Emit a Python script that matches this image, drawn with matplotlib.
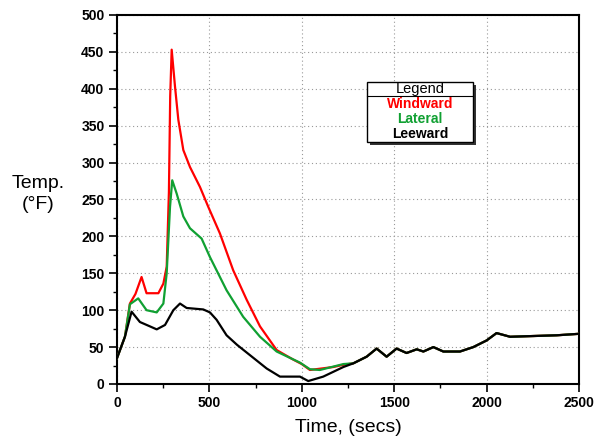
import matplotlib

matplotlib.use("Agg")
import matplotlib.pyplot as plt
from matplotlib.patches import Rectangle
from matplotlib.ticker import MultipleLocator

plt.rcParams["font.family"] = ["Liberation Sans", "DejaVu Sans"]

# ---- data ------------------------------------------------------------------
tail_t = [1279, 1351, 1405, 1459, 1513, 1567, 1622, 1658, 1712, 1766, 1856,
          1928, 2000, 2054, 2127, 2253, 2380, 2500]
tail_v = [28, 37, 48, 37, 48, 42, 47, 44, 50, 44, 44, 50, 59, 69, 64, 65, 66, 68]

windward_t = [0, 43, 70, 100, 133, 160, 224, 251, 269, 281, 288, 296, 314, 332,
              359, 395, 449, 494, 557, 629, 702, 774, 864, 954, 1000, 1044,
              1170, 1225]
windward_v = [35, 64, 109, 122, 145, 123, 123, 136, 159, 260, 390, 453, 403, 358,
              317, 294, 267, 240, 204, 154, 114, 78, 46, 33, 27, 19,
              23, 26]

lateral_t = [0, 43, 70, 115, 160, 215, 251, 269, 287, 299, 323, 359, 395, 458,
             503, 593, 683, 774, 864, 990, 1044, 1098, 1225]
lateral_v = [35, 64, 108, 116, 100, 97, 109, 150, 240, 276, 258, 227, 211, 197,
             172, 127, 91, 64, 44, 29, 20, 19, 27]

leeward_t = [0, 43, 79, 124, 179, 215, 260, 305, 341, 377, 467, 503, 539, 593,
             650, 720, 810, 882, 990, 1035, 1116, 1225]
leeward_v = [35, 64, 98, 84, 78, 74, 80, 100, 109, 103, 101, 97, 87, 66,
             53, 39, 21, 10, 10, 4, 10, 23]

series = [
    ("Windward", windward_t + tail_t, windward_v + tail_v, "#ff0000"),
    ("Lateral", lateral_t + tail_t, lateral_v + tail_v, "#10a032"),
    ("Leeward", leeward_t + tail_t, leeward_v + tail_v, "#000000"),
]

# ---- figure ---------------------------------------------------------------
fig = plt.figure(figsize=(5.95, 4.38), dpi=100)
ax = fig.add_axes([0.1966, 0.1233, 0.7765, 0.8425])

for name, t, v, c in series:
    ax.plot(t, v, color=c, lw=1.6, zorder=3)

ax.set_xlim(0, 2500)
ax.set_ylim(0, 500)
ax.xaxis.set_major_locator(MultipleLocator(500))
ax.xaxis.set_minor_locator(MultipleLocator(250))
ax.yaxis.set_major_locator(MultipleLocator(50))
ax.yaxis.set_minor_locator(MultipleLocator(25))
ax.tick_params(which="major", direction="out", length=6, width=1.2,
               labelsize=10, pad=3)
ax.tick_params(which="minor", direction="out", length=3, width=1.0)
for lab in ax.get_xticklabels() + ax.get_yticklabels():
    lab.set_fontweight("bold")
for sp in ax.spines.values():
    sp.set_linewidth(1.5)
ax.grid(True, which="major", color="#999999", ls=(0, (1, 2.5)), lw=0.8)

ax.set_xlabel("Time, (secs)", fontsize=14, labelpad=6)
fig.text(38 / 595, 1 - 194 / 438, "Temp.\n(°F)", fontsize=14,
         ha="center", va="center", linespacing=1.3)

# ---- boxed legend ----------------------------------------------------------
x0, x1 = 0.541, 0.771
y0, y1 = 0.657, 0.819
ax.add_patch(Rectangle((x0 + 0.007, y0 - 0.009), x1 - x0, y1 - y0,
                       transform=ax.transAxes, facecolor="#333333",
                       edgecolor="none", zorder=4))
ax.add_patch(Rectangle((x0, y0), x1 - x0, y1 - y0, transform=ax.transAxes,
                       facecolor="white", edgecolor="black", lw=1.0, zorder=5))
ax.plot([x0, x1], [0.781, 0.781], transform=ax.transAxes, color="black",
        lw=0.8, zorder=6)
cx = (x0 + x1) / 2
ax.text(cx, 0.800, "Legend", transform=ax.transAxes, ha="center", va="center",
        fontsize=10.5, zorder=6)
for i, (name, _, _, c) in enumerate(series):
    ax.text(cx, 0.758 - i * 0.04, name, transform=ax.transAxes, ha="center",
            va="center", fontsize=10, fontweight="bold", color=c, zorder=6)

fig.savefig("out.png", dpi=100)
